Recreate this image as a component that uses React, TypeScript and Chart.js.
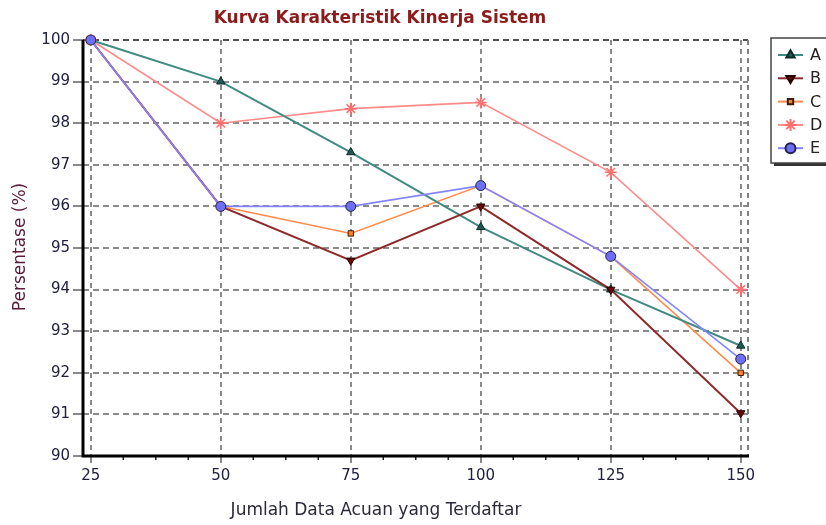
import { useEffect, useRef } from 'react';
import { Chart, registerables } from 'chart.js';
import { drawPoint } from 'chart.js/helpers';

Chart.register(...registerables);

const chartTitle = 'Kurva Karakteristik Kinerja Sistem';
const xAxisTitle = 'Jumlah Data Acuan yang Terdaftar';
const yAxisTitle = 'Persentase (%)';

const xValues = [25, 50, 75, 100, 125, 150];
const xTickLabels = [25, 50, 75, 100, 125, 150];
const xMinorTicks = [31.25, 37.5, 43.75, 56.25, 62.5, 68.75, 81.25, 87.5, 93.75, 106.25, 112.5, 118.75, 131.25, 137.5, 143.75];
const yTickLabels = [90, 91, 92, 93, 94, 95, 96, 97, 98, 99, 100];

const seriesNames = ['A', 'B', 'C', 'D', 'E'];
const seriesA = [100, 99, 97.3, 95.5, 94, 92.65];
const seriesB = [100, 96, 94.7, 96, 94, 91.03];
const seriesC = [100, 96, 95.35, 96.5, 94.8, 92];
const seriesD = [100, 98, 98.35, 98.5, 96.82, 94];
const seriesE = [100, 96, 96, 96.5, 94.8, 92.33];

const FONT = "'DejaVu Sans', 'Liberation Sans', sans-serif";

const seriesStyles = [
  { line: '#3f8b82', fill: '#1f5a52', edge: '#0f2a26', pointStyle: 'triangle', rotation: 0, radius: 4.8, lineWidth: 2, order: 2 },
  { line: '#8e2a2a', fill: '#6a0808', edge: '#200000', pointStyle: 'triangle', rotation: 180, radius: 4.8, lineWidth: 2, order: 1 },
  { line: '#ff8c4c', fill: '#ff8020', edge: '#3a2010', pointStyle: 'rect', rotation: 0, radius: 3.8, lineWidth: 1.6, order: 3 },
  { line: '#ff8a8a', fill: '#ff8080', edge: '#ff7070', pointStyle: 'star', rotation: 0, radius: 6, lineWidth: 1.6, order: 4 },
  { line: '#8484ff', fill: '#6f6ff5', edge: '#22224a', pointStyle: 'circle', rotation: 0, radius: 5, lineWidth: 1.6, order: 0 },
];

const allSeries = [seriesA, seriesB, seriesC, seriesD, seriesE];

const decorPlugin = {
  id: 'decor',
  beforeDatasetsDraw(chart: any) {
    const { ctx, chartArea } = chart;
    const { left, right, top, bottom } = chartArea;
    const xs = chart.scales.x;
    ctx.save();
    ctx.strokeStyle = '#808080';
    ctx.lineWidth = 2;
    ctx.setLineDash([5, 4]);
    ctx.beginPath();
    ctx.moveTo(right, top);
    ctx.lineTo(right, bottom);
    ctx.stroke();
    ctx.setLineDash([]);
    ctx.strokeStyle = '#222';
    ctx.lineWidth = 1.5;
    for (const v of xMinorTicks) {
      const px = xs.getPixelForValue(v);
      ctx.beginPath();
      ctx.moveTo(px, bottom);
      ctx.lineTo(px, bottom + 4);
      ctx.stroke();
    }
    ctx.strokeStyle = '#000';
    ctx.lineWidth = 3;
    ctx.beginPath();
    ctx.moveTo(left, top);
    ctx.lineTo(left, bottom);
    ctx.lineTo(right + 1, bottom);
    ctx.stroke();
    ctx.restore();
  },
  afterDraw(chart: any) {
    const { ctx } = chart;
    ctx.save();
    ctx.fillStyle = '#8b1c1c';
    ctx.font = `bold 17px ${FONT}`;
    ctx.textAlign = 'center';
    ctx.textBaseline = 'middle';
    ctx.fillText(chartTitle, 380, 19);
    ctx.fillStyle = '#2a2a3a';
    ctx.font = `17px ${FONT}`;
    ctx.fillText(xAxisTitle, 376, 511);
    ctx.save();
    ctx.translate(21, 247);
    ctx.rotate(-Math.PI / 2);
    ctx.fillStyle = '#5a1a3a';
    ctx.font = `17px ${FONT}`;
    ctx.fillText(yAxisTitle, 0, 0);
    ctx.restore();

    const bx = 771, by = 38, bw = 70, bh = 125;
    ctx.fillStyle = '#ffffff';
    ctx.fillRect(bx, by, bw, bh);
    ctx.fillStyle = '#333';
    ctx.fillRect(bx + 3, by + bh, bw, 3);
    ctx.strokeStyle = '#444';
    ctx.lineWidth = 1.5;
    ctx.strokeRect(bx, by, bw, bh);
    seriesNames.forEach((name, i) => {
      const st = seriesStyles[i];
      const y = by + 17 + i * 23.3;
      ctx.strokeStyle = st.line;
      ctx.lineWidth = 2;
      ctx.beginPath();
      ctx.moveTo(bx + 7, y);
      ctx.lineTo(bx + 32, y);
      ctx.stroke();
      ctx.fillStyle = st.fill;
      ctx.strokeStyle = st.edge;
      drawPoint(ctx, { pointStyle: st.pointStyle, rotation: st.rotation, radius: st.radius, borderWidth: 1 }, bx + 19.5, y);
      ctx.fillStyle = '#222';
      ctx.font = `16px ${FONT}`;
      ctx.textAlign = 'left';
      ctx.textBaseline = 'middle';
      ctx.fillText(name, bx + 39, y + 1);
    });
    ctx.restore();
  },
};

export default function App() {
  const canvasRef = useRef<HTMLCanvasElement | null>(null);

  useEffect(() => {
    const canvas = canvasRef.current;
    if (!canvas) return;
    const datasets = allSeries.map((series, i) => {
      const st = seriesStyles[i];
      return {
        label: seriesNames[i],
        data: series.map((v, j) => ({ x: xValues[j], y: v })),
        order: st.order,
        borderColor: st.line,
        borderWidth: st.lineWidth,
        backgroundColor: st.fill,
        pointStyle: st.pointStyle,
        pointRotation: st.rotation,
        pointRadius: st.radius,
        pointBackgroundColor: st.fill,
        pointBorderColor: st.edge,
        pointBorderWidth: st.pointStyle === 'star' ? 1.5 : 1,
        tension: 0,
        clip: false,
      };
    });
    const chart = new Chart(canvas, {
      type: 'line',
      data: { datasets } as any,
      options: {
        responsive: false,
        animation: false,
        layout: { padding: { top: 40, right: 78, left: 0, bottom: 0 } },
        plugins: {
          legend: { display: false },
          title: { display: false },
          tooltip: { enabled: false },
        },
        scales: {
          x: {
            type: 'linear',
            min: 23.5,
            max: 151.4,
            afterBuildTicks: (s: any) => {
              s.ticks = xTickLabels.map((v) => ({ value: v }));
            },
            afterFit: (s: any) => {
              s.height = 69;
            },
            grid: {
              color: '#8a8a8a',
              lineWidth: 2,
              drawTicks: true,
              tickLength: 7,
              tickColor: '#8a8a8a',
              tickWidth: 2,
            },
            border: { display: false, dash: [5, 4] },
            ticks: {
              padding: 4,
              color: '#202040',
              font: { family: FONT, size: 15 },
              maxRotation: 0,
              autoSkip: false,
            },
          },
          y: {
            type: 'linear',
            min: 90,
            max: 100,
            afterBuildTicks: (s: any) => {
              s.ticks = yTickLabels.map((v) => ({ value: v }));
            },
            afterFit: (s: any) => {
              s.width = 83;
            },
            grid: {
              color: (c: any) => (c.tick && c.tick.value === 100 ? '#505050' : '#8a8a8a'),
              lineWidth: 2,
              drawTicks: true,
              tickLength: 10,
              tickColor: '#8a8a8a',
              tickWidth: 2,
            },
            border: { display: false, dash: [6, 4] },
            ticks: {
              padding: 3,
              color: '#202040',
              font: { family: FONT, size: 15 },
              autoSkip: false,
            },
          },
        },
      },
      plugins: [decorPlugin],
    } as any);
    return () => chart.destroy();
  }, []);

  return (
    <div style={{ position: 'absolute', left: 0, top: 0, width: 826, height: 525, background: '#fff' }}>
      <canvas ref={canvasRef} width={826} height={525} style={{ display: 'block' }} />
    </div>
  );
}
